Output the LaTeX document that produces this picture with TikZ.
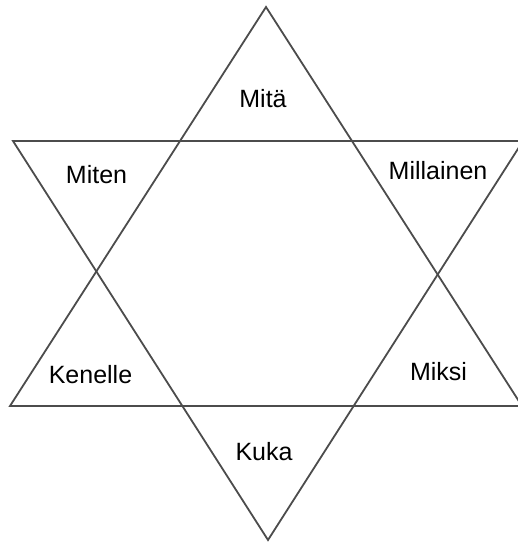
\documentclass[tikz,border=0pt]{standalone}
\usepackage{fontspec}
\setmainfont{Liberation Sans}
\usepackage{tikz}
\usetikzlibrary{positioning}

\begin{document}
\begin{tikzpicture}[x=1pt, y=-1pt,
        side/.style={draw=black!70, line width=1.8pt, line join=miter},
        word/.style={anchor=base, inner sep=0pt, font=\fontsize{25}{28}\selectfont}]
            \useasboundingbox (0,0) rectangle (518,545);
            \clip (0,0) rectangle (518,545);

            % kolmiot
            \coordinate (ylä) at (266,7);
            \coordinate (vasala) at (10,406);
            \coordinate (oikala) at (522,406);
            \coordinate (vasyla) at (13,141);
            \coordinate (oikyla) at (523,141);
            \coordinate (ala) at (268,540);

            \draw[side] (ylä) -- (vasala) -- (oikala) -- cycle;
            \draw[side] (vasyla) -- (oikyla) -- (ala) -- cycle;

            \node[word] (mita) at (263,108) {Mitä};
            \node[word] (miten) at (96.5,184) {Miten};
            \node[word] (millainen) at (438,179) {Millainen};
            \node[word] (kenelle) at (90.5,383) {Kenelle};
            \node[word] (miksi) at (438.5,380) {Miksi};
            \node[word] (kuka) at (264,460) {Kuka};
        \end{tikzpicture}
\end{document}
